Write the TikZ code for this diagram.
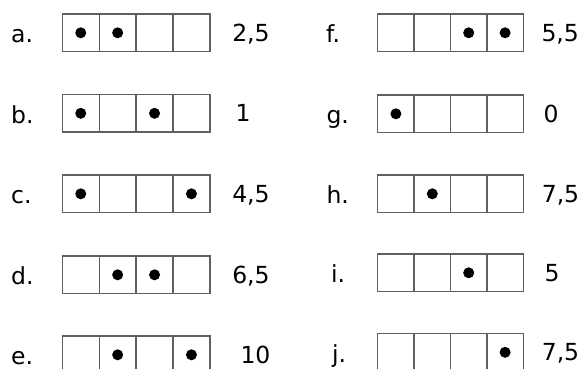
\documentclass[tikz,border=0pt]{standalone}
\usepackage{fontspec}
\setmainfont{DejaVu Sans}
\definecolor{cellgray}{HTML}{606060}
\tikzset{
  cell/.style={draw=cellgray, line width=1.25pt, minimum width=36.8pt, minimum height=37.6pt,
    inner sep=0pt, outer sep=0pt, anchor=north west},
  dot/.style={circle, fill=black, minimum size=11pt, inner sep=0pt},
  txt/.style={anchor=base west, inner sep=0pt, outer sep=0pt, font=\fontsize{23.5}{28}\selectfont}
}
\begin{document}
\begin{tikzpicture}[x=1pt,y=-1pt]
\useasboundingbox (0,0) rectangle (584,369);
\fill[white] (0,0) rectangle (584,369);
% name / box left x / cell width / top y / dots / label / label x / number / number x
\foreach \n/\bx/\cw/\ty/\dl/\lab/\lx/\num/\nx in {
  a/62.3/36.9/14/{1,2}/a./11.2/{2,5}/232.3,
  b/62.3/36.9/94.5/{1,3}/b./11.2/1/235.5,
  c/62.3/36.9/175/{1,4}/c./11.2/{4,5}/232.3,
  d/62.3/36.9/256/{2,3}/d./11.2/{6,5}/232.3,
  e/62.3/36.9/336/{2,4}/e./11.2/10/240.5,
  f/377.7/36.4/14/{3,4}/f./326/{5,5}/541.5,
  g/377.7/36.4/95/{1}/g./326.5/0/543.5,
  h/377.7/36.4/175/{2}/h./326.5/{7,5}/541.8,
  i/377.7/36.4/254/{3}/i./331/5/544.5,
  j/377.7/36.4/333.5/{4}/j./332/{7,5}/541.8}
{
  \foreach \k in {1,2,3,4}{
    \node[cell, minimum width=\cw pt] (\n\k) at ({\bx+(\k-1)*\cw},\ty) {};
  }
  \foreach \d in \dl {
    \node[dot] (\n dot\d) at (\n\d.center) {};
  }
  \node[txt] (\n lab) at (\lx,\ty+18.8+10) {\lab};
  \node[txt] (\n num) at (\nx,\ty+18.8+8.4) {\num};
}
\end{tikzpicture}
\end{document}
